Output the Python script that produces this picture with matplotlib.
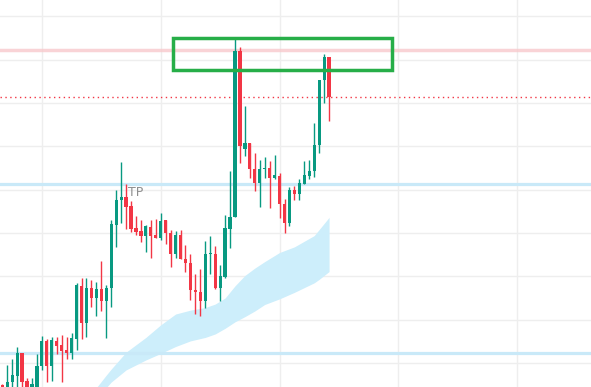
import numpy as np
import matplotlib.pyplot as plt
from matplotlib.patches import Rectangle

# OHLC candles (arbitrary price units, grid every 10)
opens = [94.9, 93.8, 95.6, 97.1, 102.3, 95.9, 93.6, 94.3, 99.3, 105.1,
         99.3, 105.1, 104.2, 103.0, 102.3, 105.5, 117.8, 109.3, 117.4, 115.0,
         117.1, 114.2, 117.3, 131.9, 137.5, 138.3, 136.3, 131.1, 130.5, 129.4,
         131.3, 129.6, 128.9, 132.9, 129.9, 125.1, 129.6, 124.0, 123.0, 116.9,
         116.4, 114.2, 125.1, 125.2, 117.4, 119.9, 131.0, 133.6, 172.0, 149.3,
         150.8, 144.7, 141.6, 144.7, 145.0, 142.6, 143.2, 136.6, 132.4, 140.0,
         139.0, 141.3, 143.2, 144.2, 150.3, 165.2, 170.6]
highs = [95.2, 99.6, 100.9, 103.6, 102.3, 96.6, 96.6, 102.0, 106.3, 105.6,
         106.1, 106.1, 106.4, 106.1, 107.0, 118.4, 119.7, 119.7, 119.2, 118.6,
         123.6, 118.0, 132.9, 140.0, 146.3, 141.3, 137.4, 133.9, 133.0, 131.8,
         133.0, 133.2, 134.6, 133.0, 130.7, 130.5, 130.6, 127.3, 125.1, 120.6,
         121.7, 128.2, 129.3, 126.9, 122.6, 134.2, 144.4, 174.7, 173.0, 159.3,
         150.8, 148.4, 146.9, 147.5, 146.5, 148.0, 143.9, 137.8, 140.6, 140.8,
         142.4, 146.5, 146.8, 155.5, 165.3, 171.3, 170.6]
lows = [93.1, 93.1, 94.5, 94.5, 94.5, 92.9, 92.9, 93.8, 98.4, 95.7,
        95.9, 102.1, 95.7, 100.9, 100.9, 103.0, 105.5, 106.1, 112.9, 110.9,
        112.0, 105.7, 112.9, 126.7, 132.3, 130.9, 130.3, 129.6, 127.9, 125.5,
        124.3, 128.9, 128.4, 127.4, 122.2, 124.3, 123.9, 121.1, 114.6, 111.3,
        110.9, 112.8, 120.6, 117.1, 114.2, 119.7, 126.6, 133.6, 146.2, 147.8,
        142.8, 139.6, 135.9, 142.8, 135.7, 142.4, 133.4, 129.9, 131.6, 137.6,
        137.6, 141.3, 142.5, 143.0, 148.4, 160.1, 155.9]
closes = [93.8, 95.6, 97.2, 102.3, 95.7, 93.8, 95.2, 99.3, 105.1, 99.3,
          105.2, 103.9, 102.8, 102.3, 105.7, 118.0, 109.3, 117.4, 115.0, 117.1,
          114.2, 117.4, 132.1, 137.6, 138.3, 136.1, 131.0, 130.3, 129.4, 131.5,
          129.4, 128.9, 132.8, 129.9, 125.1, 129.6, 123.9, 123.0, 116.8, 116.3,
          114.2, 125.2, 125.3, 117.3, 120.1, 131.2, 133.7, 172.0, 150.1, 150.7,
          144.7, 141.6, 144.7, 145.0, 142.6, 143.4, 136.6, 132.4, 140.0, 139.0,
          141.6, 143.4, 144.3, 150.3, 165.3, 170.6, 161.3]

# cloud band (bar index, top, bottom)
cloud_idx = [18, 19, 21, 22, 25, 29, 32, 35, 38, 41, 43, 45, 47, 49, 51, 53, 56, 59, 63, 64, 66]
cloud_top = [93.0, 94.3, 97.2, 98.6, 102.5, 105.9, 108.8, 111.3, 112.2, 112.8, 113.6,
             115.0, 117.8, 120.2, 121.9, 123.4, 125.5, 126.8, 129.4, 130.8, 133.6]
cloud_bottom = [90.8, 92.2, 94.3, 95.6, 98.4, 100.7, 102.2, 103.8, 105.1, 105.9, 106.7,
                108.0, 109.5, 110.7, 112.0, 113.5, 114.8, 116.3, 118.5, 119.3, 121.1]

# horizontal levels
resistance = 172.2
supports = [141.3, 102.2]
tp_label = (25.4, 139.4)

# supply zone box (bar range, price range)
zone_bars = (34.5, 78.7)
zone_prices = (167.6, 175.0)

UP = '#089981'
DOWN = '#f23645'

fig = plt.figure(figsize=(5.91, 3.87), dpi=100)
ax = fig.add_axes([0, 0, 1, 1])

x = np.arange(len(opens))
o = np.array(opens)
h = np.array(highs)
l = np.array(lows)
c = np.array(closes)
colors = [UP if cc >= oo else DOWN for oo, cc in zip(o, c)]

# grid
for gx in range(8, 120, 24):
    ax.axvline(gx, color='#eeeeee', lw=1, zorder=0)
for gy in range(100, 190, 10):
    ax.axhline(gy, color='#eeeeee', lw=1, zorder=0)

ax.fill_between(cloud_idx, cloud_bottom, cloud_top, color='#cdeefb', lw=0, zorder=1)

ax.axhline(resistance, color='#f8c9cc', lw=2.5, alpha=0.8, zorder=1)
for s in supports:
    ax.axhline(s, color='#c9e9f8', lw=2.3, zorder=1)
ax.axhline(closes[-1], color='#f23645', lw=1, ls=(0, (1, 2.5)), zorder=1)

ax.text(tp_label[0], tp_label[1], 'TP', color='#8e8e8e', fontsize=9,
        ha='left', va='center', zorder=4)

# candles
ax.vlines(x, l, h, colors=colors, lw=1, zorder=2)
body = np.maximum(np.abs(c - o), 0.25)
ax.bar(x, body, bottom=np.minimum(o, c), width=0.65, color=colors, lw=0, zorder=3)

ax.add_patch(Rectangle((zone_bars[0], zone_prices[0]), zone_bars[1] - zone_bars[0],
                       zone_prices[1] - zone_prices[0], fill=False,
                       edgecolor='#27ae48', lw=2.5, zorder=5))

ax.set_xlim(-0.46, 118.9)
ax.set_ylim(94.46, 183.77)
ax.axis('off')

fig.savefig('out.png', dpi=100, facecolor='white')
